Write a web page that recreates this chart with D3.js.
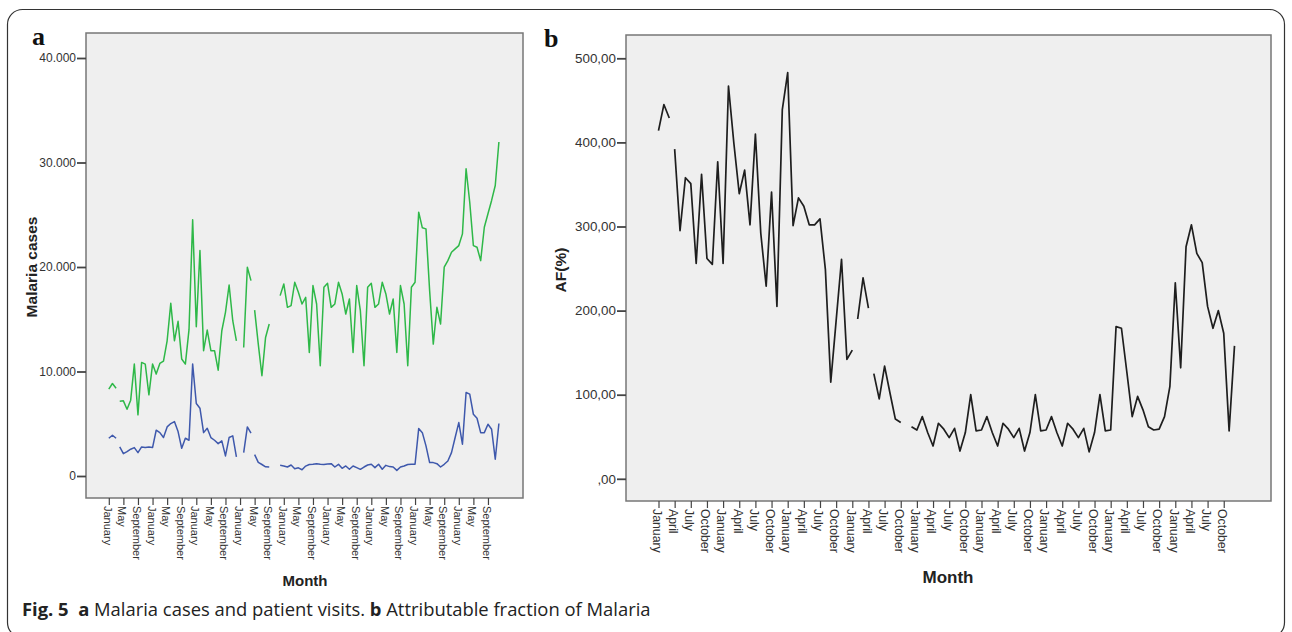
<!DOCTYPE html>
<html>
<head>
<meta charset="utf-8">
<script src="https://cdn.jsdelivr.net/npm/d3@7"></script>
<style>
  body { margin:0; background:#fff; }
  svg { display:block; }
</style>
</head>
<body>
<svg id="fig" width="1292" height="632"></svg>
<script>
// months Jan (year 1) .. Dec (year 9), index 0..107
const monthNames=["January","February","March","April","May","June","July","August","September","October","November","December"];
const casesTicks=[0,10000,20000,30000,40000];
const afTicks=[0,100,200,300,400,500];

// panel a, green line (patient visits)
const visits=[8310,8850,8400,7150,7190,6390,7255,10710,5850,10870,
  10710,7770,10710,9750,10770,11000,12940,16520,12940,14800,
  11190,10710,14000,24510,14290,21570,11990,13970,11990,11990,
  10130,13900,15660,18280,14860,12940,null,12300,19980,18700,
  15880,12620,9590,13260,14540,null,null,17260,18380,16140,
  16300,18540,17580,16460,17100,11830,18220,16460,10550,18060,
  18440,16140,16460,18540,17420,15500,16940,11830,18220,15820,
  10550,18060,18440,16140,16460,18540,17420,15500,16940,11830,
  18220,16460,10550,18060,18540,25250,23750,23650,17740,12620,
  16140,14540,19980,20610,21410,21730,22050,23170,29400,26200,
  22050,21890,20610,23800,25090,26370,27800,31960];

// panel a, blue line (malaria cases)
const cases=[3610,3900,3610,2780,2140,2330,2560,2720,2240,2780,
  2720,2780,2720,4380,4150,3680,4700,5020,5210,4250,
  2650,3610,3420,10710,6940,6490,4150,4570,3680,3420,
  3100,3360,1920,3680,3840,1820,null,2240,4700,4100,
  2050,1300,1100,880,860,null,null,1020,960,860,
  1050,700,780,600,950,1100,1120,1180,1120,1100,
  1150,1180,860,1120,740,960,640,960,800,640,
  860,1050,1120,800,1120,640,1020,900,860,540,
  860,960,1100,1120,1120,4540,4150,2880,1280,1280,
  1180,860,1120,1440,2240,3680,5110,3040,7990,7830,
  5910,5530,4150,4150,4950,4470,1600,5020];

// panel b, attributable fraction
const af=[414,445,429,392,295,358,351,256,362,262,
  255,377,256,467,399,339,367,302,410,292,
  229,341,205,439,483,301,334,324,302,302,
  309,249,115,188,261,142,153,190,239,203,
  125,95,134,102,71,67,null,62,58,74,
  55,39,66,59,49,60,33,55,100,57,
  58,74,55,39,66,59,49,60,33,55,
  100,57,58,74,55,39,66,59,49,60,
  32,55,100,57,58,181,179,127,74,98,
  82,62,58,59,74,110,233,132,276,302,
  268,257,205,179,200,173,57,158];

// the line is not joined after these months
const breaksA=[2,39];
const breaksB=[2,36,39];

const svg=d3.select("#fig");
const tickFont="'Liberation Sans', Arial, sans-serif";

// outer rounded box
svg.append("rect")
  .attr("x",7.5).attr("y",9.5).attr("width",1277).attr("height",628)
  .attr("rx",15).attr("fill","none").attr("stroke","#333").attr("stroke-width",1.2);

function segments(values, breaks) {
  const segs=[];
  let cur=[];
  values.forEach((v,i)=>{
    if (v==null) {
      if (cur.length) segs.push(cur);
      cur=[];
      return;
    }
    cur.push([i,v]);
    if (breaks.includes(i)) { segs.push(cur); cur=[]; }
  });
  if (cur.length) segs.push(cur);
  return segs;
}

function panel(p) {
  const g=svg.append("g");
  g.append("rect")
    .attr("x",p.frame[0]).attr("y",p.frame[1])
    .attr("width",p.frame[2]-p.frame[0]).attr("height",p.frame[3]-p.frame[1])
    .attr("fill","#efefef").attr("stroke","#777").attr("stroke-width",1.5);

  const x=d3.scaleLinear().domain([0,visits.length-1]).range(p.xRange);
  const y=d3.scaleLinear().domain([0,p.yTicks[p.yTicks.length-1]]).range(p.yRange);

  // y axis
  const ya=g.append("g").attr("transform",`translate(${p.frame[0]},0)`)
    .call(d3.axisLeft(y).tickValues(p.yTicks).tickSize(9).tickPadding(1).tickFormat(p.yFormat));
  ya.select(".domain").remove();
  ya.selectAll("line").attr("stroke","#444").attr("stroke-width",1.8);
  ya.selectAll("text").attr("fill","#333").style("font-family",tickFont).style("font-size",p.yFont+"px");

  // x axis
  const xa=g.append("g").attr("transform",`translate(0,${p.frame[3]})`)
    .call(d3.axisBottom(x).tickValues(p.xTicks).tickSize(7).tickFormat(i=>monthNames[i%12]));
  xa.select(".domain").remove();
  xa.selectAll("line").attr("stroke","#444").attr("stroke-width",1.2);
  xa.selectAll("text")
    .attr("transform","rotate(90)")
    .attr("x",8).attr("y",0).attr("dy","0.5em")
    .attr("text-anchor","start")
    .attr("fill","#333").style("font-family",tickFont).style("font-size",p.xFont+"px");

  // lines
  const line=d3.line().x(d=>x(d[0])).y(d=>y(d[1]));
  p.series.forEach(s=>{
    segments(s.values,p.breaks).forEach(seg=>{
      g.append("path").datum(seg).attr("d",line)
        .attr("fill","none").attr("stroke",s.color)
        .attr("stroke-width",s.width).attr("stroke-linejoin","round");
    });
  });

  // titles
  g.append("text")
    .attr("x",p.xTitle[0]).attr("y",p.xTitle[1]).attr("text-anchor","middle")
    .style("font-family",tickFont).style("font-weight","bold").style("font-size",p.titleFont+"px")
    .attr("fill","#222").text("Month");
  g.append("text")
    .attr("transform",`translate(${p.yTitle[0]},${p.yTitle[1]}) rotate(-90)`)
    .attr("text-anchor","middle")
    .style("font-family",tickFont).style("font-weight","bold").style("font-size",p.yTitleFont+"px")
    .attr("fill","#222").text(p.yLabel);
  g.append("text")
    .attr("x",p.letter[0]).attr("y",p.letter[1])
    .style("font-family","'Liberation Serif', 'Times New Roman', serif").style("font-weight","bold")
    .style("font-size","26px").attr("fill","#111").text(p.name);
}

const dotLocale=d3.formatLocale({decimal:",",thousands:".",grouping:[3],currency:["",""]});

panel({
  name:"a", letter:[32,45],
  frame:[86,33,523,498],
  xRange:[108.8,498.9], yRange:[476,58],
  yTicks:casesTicks, yFormat:dotLocale.format(",.0f"),
  xTicks:d3.range(0,visits.length,4),
  yFont:12, xFont:11, titleFont:15, yTitleFont:15.5,
  xTitle:[305,586], yTitle:[37,267], yLabel:"Malaria cases",
  breaks:breaksA,
  series:[
    {values:visits, color:"#2eb848", width:1.5},
    {values:cases, color:"#3e58ac", width:1.5}
  ]
});

panel({
  name:"b", letter:[544,47],
  frame:[626,35,1271,501],
  xRange:[658.5,1234.5], yRange:[478.8,58.3],
  yTicks:afTicks, yFormat:v=>v===0?",00":v+",00",
  xTicks:d3.range(0,af.length,3),
  yFont:13.4, xFont:12.3, titleFont:17, yTitleFont:15.5,
  xTitle:[948,583], yTitle:[566,270], yLabel:"AF(%)",
  breaks:breaksB,
  series:[{values:af, color:"#1e1e1e", width:1.7}]
});

// caption
const cap=svg.append("text").attr("x",22).attr("y",616)
  .style("font-family","'Open Sans', 'Noto Sans', sans-serif").style("font-size","18.4px").attr("fill","#222");
cap.append("tspan").style("font-weight","bold").text("Fig. 5\u00a0\u00a0a ");
cap.append("tspan").text("Malaria cases and patient visits. ");
cap.append("tspan").style("font-weight","bold").text("b ");
cap.append("tspan").text("Attributable fraction of Malaria");
</script>
</body>
</html>
